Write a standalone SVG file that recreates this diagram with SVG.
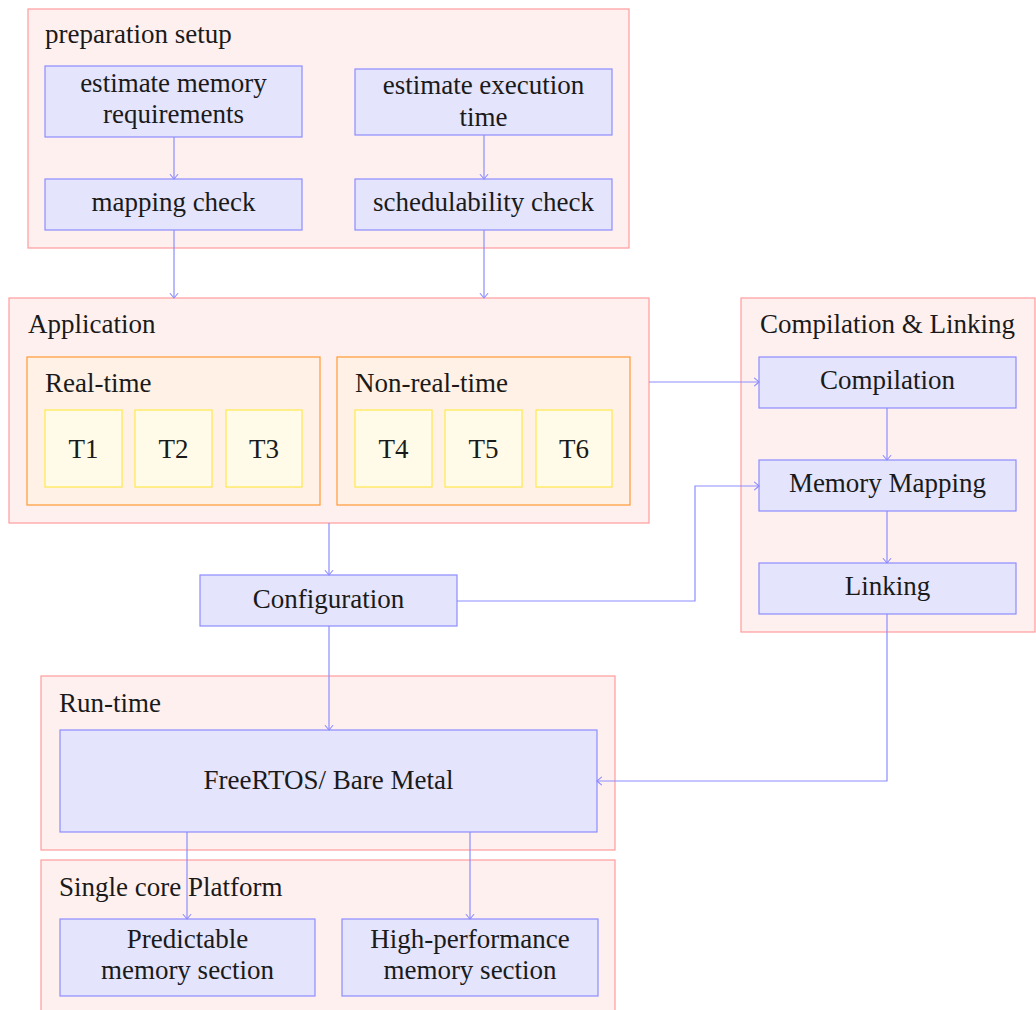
<svg xmlns="http://www.w3.org/2000/svg" width="1036" height="1010" viewBox="0 0 1036 1010" font-family="Liberation Serif, serif" font-size="27">
  <style>
    text { fill: #1a1a1a; }
    .mid { text-anchor: middle; }
    .group { fill: #fff0f0; stroke: #ff9c9c; stroke-width: 1.2; }
    .sub { fill: #fff1e6; stroke: #ff9a33; stroke-width: 1.2; }
    .task { fill: #fffbe8; stroke: #ffe94a; stroke-width: 1.2; }
    .box { fill: #e4e4fc; stroke: #8c8cff; stroke-width: 1.2; }
    .conn { fill: none; stroke: #8c8cff; stroke-width: 1.2; marker-end: url(#arr); }
  </style>
  <defs>
    <marker id="arr" markerUnits="userSpaceOnUse" markerWidth="12" markerHeight="12" viewBox="-6 -6 12 12" refX="0" refY="0" orient="auto" overflow="visible">
      <path d="M-4.5,-3.8 Q-1.2,-1 0,0 Q-1.2,1 -4.5,3.8" fill="none" stroke="#8c8cff" stroke-width="1.1" stroke-linecap="round"/>
    </marker>
  </defs>

  <!-- preparation setup -->
  <g id="prep-setup">
    <rect class="group" x="28" y="9" width="601" height="239"/>
    <text x="45" y="43">preparation setup</text>
  </g>
  <g id="est-memory">
    <rect class="box" x="45" y="66" width="257" height="71"/>
    <text class="mid" x="173.5" y="92">estimate memory</text>
    <text class="mid" x="173.5" y="123">requirements</text>
  </g>
  <g id="est-exec">
    <rect class="box" x="355" y="69" width="257" height="66"/>
    <text class="mid" x="483.5" y="94">estimate execution</text>
    <text class="mid" x="483.5" y="126">time</text>
  </g>
  <g id="mapping-check">
    <rect class="box" x="45" y="179" width="257" height="51"/>
    <text class="mid" x="173.5" y="211">mapping check</text>
  </g>
  <g id="sched-check">
    <rect class="box" x="355" y="179" width="257" height="51"/>
    <text class="mid" x="483.5" y="211">schedulability check</text>
  </g>

  <!-- Application -->
  <g id="application">
    <rect class="group" x="9" y="298" width="640" height="225"/>
    <text x="28" y="333">Application</text>
  </g>
  <g id="real-time">
    <rect class="sub" x="27" y="357" width="293" height="148"/>
    <text x="45" y="392">Real-time</text>
  </g>
  <g id="t1"><rect class="task" x="45" y="410" width="77" height="77"/><text class="mid" x="83.5" y="458">T1</text></g>
  <g id="t2"><rect class="task" x="135" y="410" width="77" height="77"/><text class="mid" x="173.5" y="458">T2</text></g>
  <g id="t3"><rect class="task" x="226" y="410" width="76" height="77"/><text class="mid" x="264" y="458">T3</text></g>
  <g id="non-real-time">
    <rect class="sub" x="337" y="357" width="293" height="148"/>
    <text x="355" y="392">Non-real-time</text>
  </g>
  <g id="t4"><rect class="task" x="355" y="410" width="77" height="77"/><text class="mid" x="393.5" y="458">T4</text></g>
  <g id="t5"><rect class="task" x="445" y="410" width="77" height="77"/><text class="mid" x="483.5" y="458">T5</text></g>
  <g id="t6"><rect class="task" x="536" y="410" width="76" height="77"/><text class="mid" x="574" y="458">T6</text></g>

  <!-- Compilation & Linking -->
  <g id="comp-link">
    <rect class="group" x="741" y="298" width="294" height="334"/>
    <text x="760" y="333">Compilation &amp; Linking</text>
  </g>
  <g id="compilation">
    <rect class="box" x="759" y="357" width="257" height="51"/>
    <text class="mid" x="887.5" y="389">Compilation</text>
  </g>
  <g id="memory-mapping">
    <rect class="box" x="759" y="460" width="257" height="51"/>
    <text class="mid" x="887.5" y="492">Memory Mapping</text>
  </g>
  <g id="linking">
    <rect class="box" x="759" y="563" width="257" height="51"/>
    <text class="mid" x="887.5" y="595">Linking</text>
  </g>

  <!-- Configuration -->
  <g id="configuration">
    <rect class="box" x="200" y="575" width="257" height="51"/>
    <text class="mid" x="328.5" y="608">Configuration</text>
  </g>

  <!-- Run-time -->
  <g id="run-time">
    <rect class="group" x="41" y="676" width="574" height="174"/>
    <text x="59" y="712">Run-time</text>
  </g>
  <g id="freertos">
    <rect class="box" x="60" y="730" width="537" height="102"/>
    <text class="mid" x="328.5" y="789">FreeRTOS/ Bare Metal</text>
  </g>

  <!-- Single core Platform -->
  <g id="platform">
    <rect class="group" x="41" y="860" width="574" height="160"/>
    <text x="59" y="896">Single core Platform</text>
  </g>
  <g id="predictable-mem">
    <rect class="box" x="60" y="919" width="255" height="77"/>
    <text class="mid" x="187.5" y="948">Predictable</text>
    <text class="mid" x="187.5" y="979">memory section</text>
  </g>
  <g id="highperf-mem">
    <rect class="box" x="342" y="919" width="256" height="77"/>
    <text class="mid" x="470" y="948">High-performance</text>
    <text class="mid" x="470" y="979">memory section</text>
  </g>

  <!-- connectors -->
  <g id="connectors">
    <path class="conn" d="M174,137 V179"/>
    <path class="conn" d="M484,135 V179"/>
    <path class="conn" d="M174,230 V298"/>
    <path class="conn" d="M484,230 V298"/>
    <path class="conn" d="M649,382 H759"/>
    <path class="conn" d="M887,408 V460"/>
    <path class="conn" d="M887,511 V563"/>
    <path class="conn" d="M329,523 V575"/>
    <path class="conn" d="M457,601 H695 V486 H759"/>
    <path class="conn" d="M329,626 V730"/>
    <path class="conn" d="M887,614 V781 H597"/>
    <path class="conn" d="M187,832 V919"/>
    <path class="conn" d="M470,832 V919"/>
  </g>
</svg>
